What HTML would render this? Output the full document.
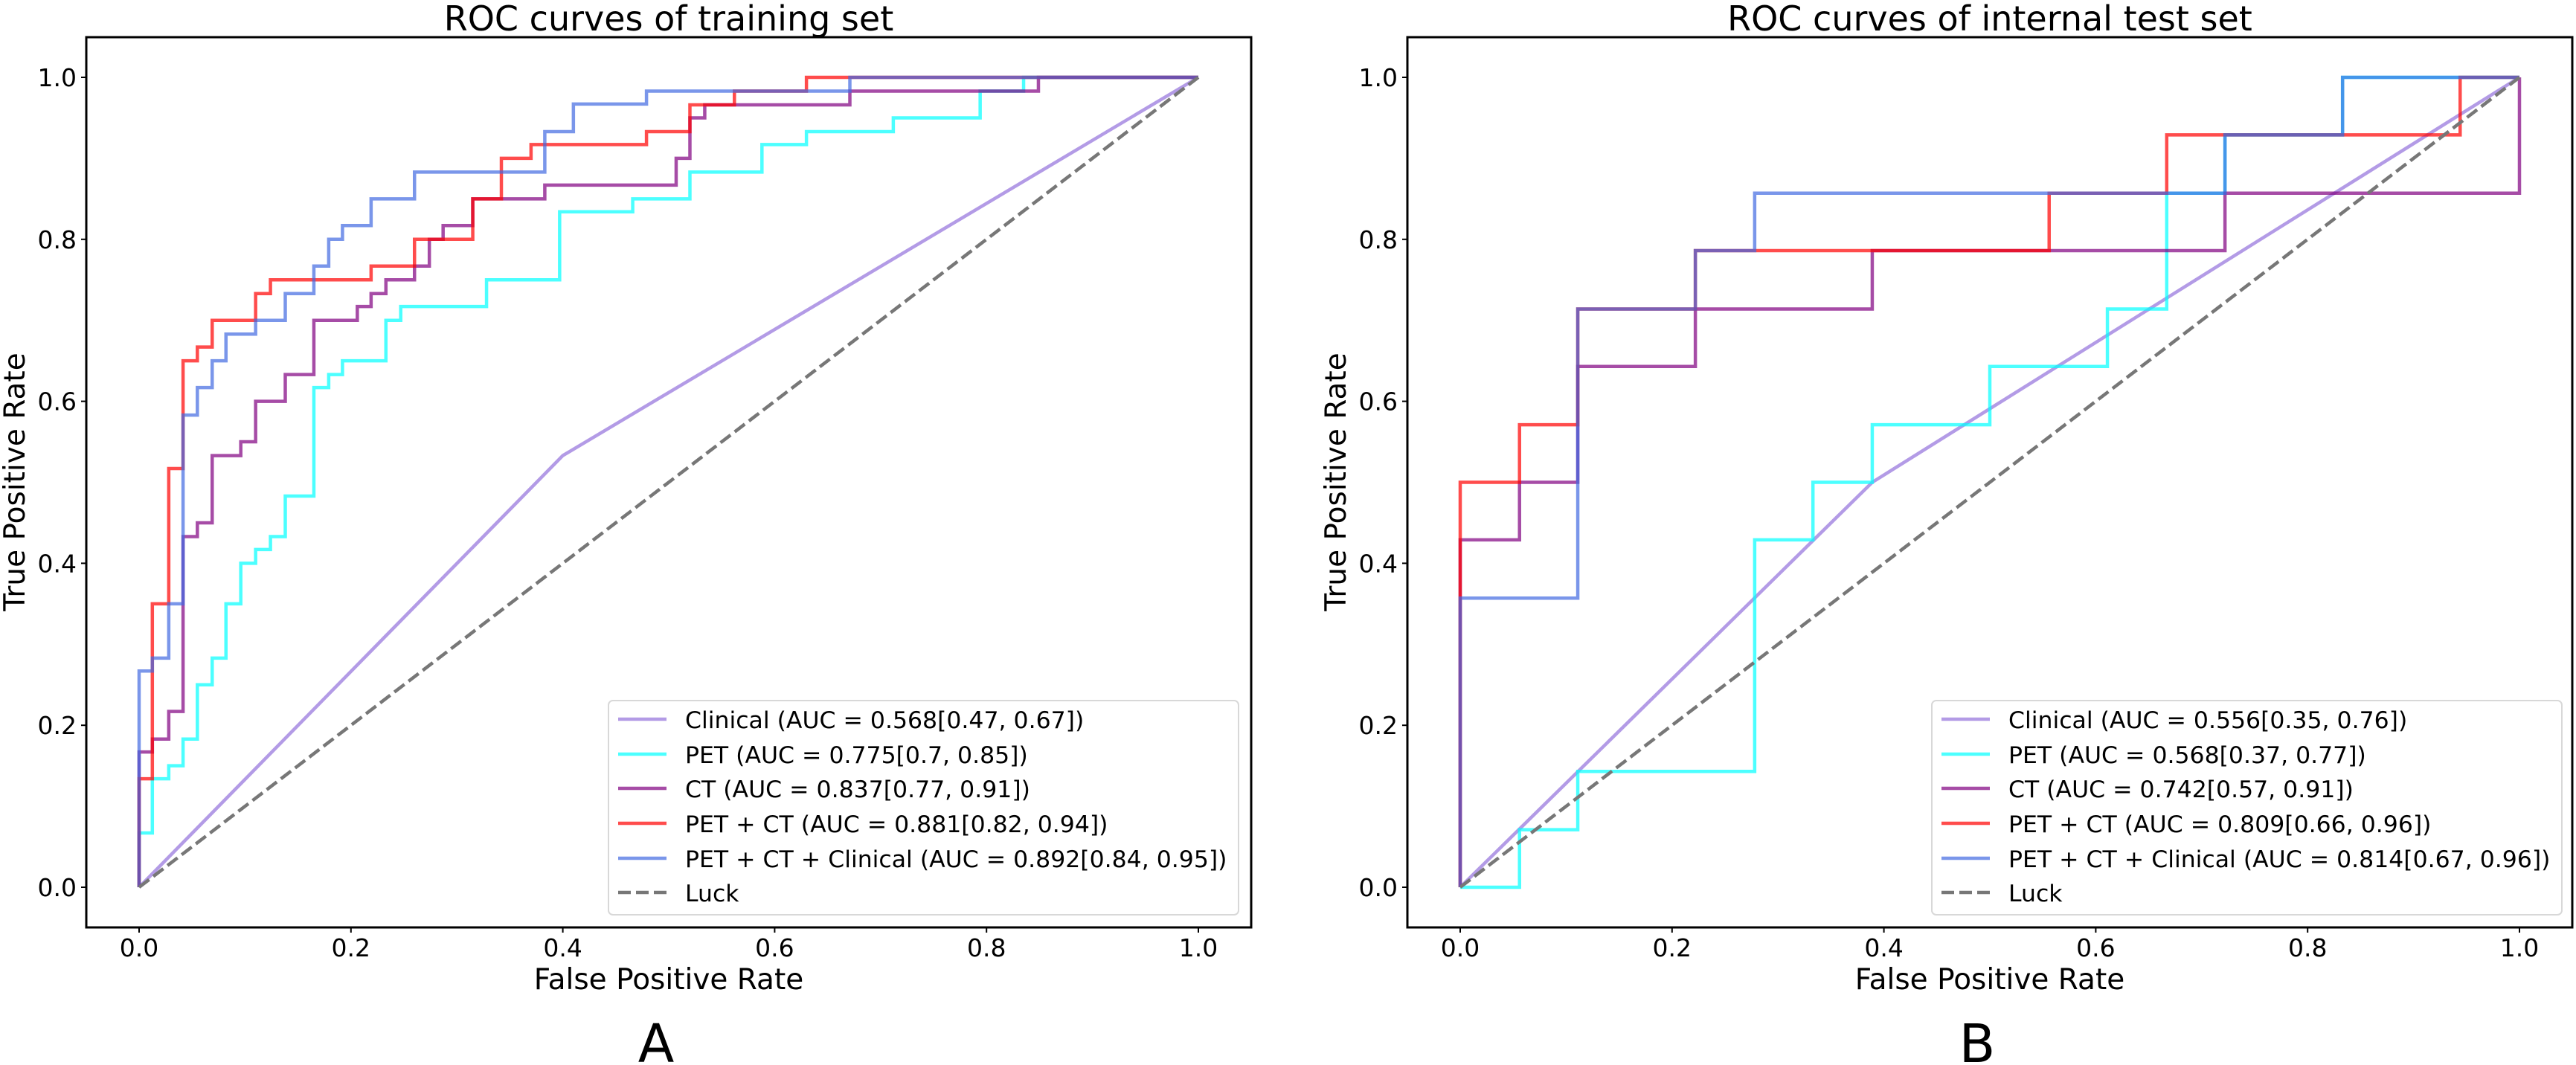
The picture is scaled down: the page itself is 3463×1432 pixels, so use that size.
<!DOCTYPE html>
<html><head><meta charset="utf-8"><style>
body{margin:0;background:#fff}
svg{display:block;font-family:"DejaVu Sans","Liberation Sans",sans-serif}
</style></head><body>
<svg id="fig" width="3463" height="1432" viewBox="0 0 3463 1432" xmlns="http://www.w3.org/2000/svg"></svg>
<script>
// ---- data ----
const trainClinicalFpr=[0,0.4,1], trainClinicalTpr=[0,0.533,1];
const trainPetFpr=[0,0,.0125,.028,.0415,.055,.069,.082,.096,.11,.124,.138,.165,.179,.192,.233,.247,.328,.397,.466,.52,.588,.63,.712,.794,.835,1];
const trainPetTpr=[0,.067,.134,.15,.183,.25,.283,.35,.40,.417,.433,.483,.617,.633,.65,.70,.717,.75,.834,.85,.883,.917,.933,.95,.983,1,1];
const trainCtFpr=[0,0,.0125,.028,.0415,.055,.069,.096,.11,.138,.165,.206,.219,.233,.26,.274,.287,.315,.383,.507,.52,.534,.671,.849,1];
const trainCtTpr=[0,.167,.183,.217,.433,.45,.533,.55,.60,.633,.70,.717,.733,.75,.767,.80,.817,.85,.867,.90,.95,.966,.983,1,1];
const trainPetCtFpr=[0,0,.0125,.028,.0415,.055,.069,.11,.124,.219,.26,.315,.342,.37,.479,.52,.562,.63,1];
const trainPetCtTpr=[0,.134,.35,.517,.65,.667,.70,.733,.75,.767,.80,.85,.90,.917,.933,.966,.983,1,1];
const trainAllFpr=[0,0,.0125,.028,.0415,.055,.069,.082,.11,.138,.165,.179,.192,.219,.26,.383,.41,.479,.671,1];
const trainAllTpr=[0,.267,.283,.35,.583,.617,.65,.683,.70,.733,.767,.80,.817,.85,.883,.933,.967,.983,1,1];
const testClinicalFpr=[0,0.389,1], testClinicalTpr=[0,0.5,1];
const testPetFpr=[0,.056,.111,.278,.333,.389,.5,.611,.667,.722,.833,1];
const testPetTpr=[0,.071,.143,.429,.5,.571,.643,.714,.857,.929,1,1];
const testCtFpr=[0,0,.056,.111,.222,.389,.722,1];
const testCtTpr=[0,.429,.5,.643,.714,.786,.857,1];
const testPetCtFpr=[0,0,.056,.111,.222,.556,.667,.944,1];
const testPetCtTpr=[0,.5,.571,.714,.786,.857,.929,1,1];
const testAllFpr=[0,0,.111,.222,.278,.722,.833,1];
const testAllTpr=[0,.357,.714,.786,.857,.929,1,1];
const tickValues=[0,0.2,0.4,0.6,0.8,1.0];
const tickLabels=["0.0","0.2","0.4","0.6","0.8","1.0"];
const trainLegend=["Clinical (AUC = 0.568[0.47, 0.67])","PET (AUC = 0.775[0.7, 0.85])","CT (AUC = 0.837[0.77, 0.91])","PET + CT (AUC = 0.881[0.82, 0.94])","PET + CT + Clinical (AUC = 0.892[0.84, 0.95])","Luck"];
const testLegend=["Clinical (AUC = 0.556[0.35, 0.76])","PET (AUC = 0.568[0.37, 0.77])","CT (AUC = 0.742[0.57, 0.91])","PET + CT (AUC = 0.809[0.66, 0.96])","PET + CT + Clinical (AUC = 0.814[0.67, 0.96])","Luck"];

const NS="http://www.w3.org/2000/svg";
const svg=document.getElementById('fig');
function mk(tag,attrs,parent,text){const e=document.createElementNS(NS,tag);for(const k in attrs)e.setAttribute(k,attrs[k]);if(text!==undefined)e.textContent=text;(parent||svg).appendChild(e);return e;}
const colors=['#9370DB','#00FFFF','#800080','#FF0000','#4169E1'];
const names=['clinical','pet','ct','pet-ct','pet-ct-clinical'];

function panel(cfg){
  const g=mk('g',{});
  
  
  const X=v=>cfg.x0+v*(cfg.x1-cfg.x0), Y=v=>1193-v*1089;
  const cx=(cfg.fl+cfg.fr)/2;
  const t=mk('text',{x:cx,y:41,'text-anchor':'middle','font-size':46},g,cfg.title);
  
  tickValues.forEach((v,i)=>{
    const xt=mk('line',{x1:X(v),x2:X(v),y1:1247,y2:1254,stroke:'#000','stroke-width':2},g);
    
    const xl=mk('text',{x:X(v),y:1286,'text-anchor':'middle','font-size':33},g,tickLabels[i]);
    
    const yt=mk('line',{x1:cfg.fl-7,x2:cfg.fl,y1:Y(v),y2:Y(v),stroke:'#000','stroke-width':2},g);
    
    const yl=mk('text',{x:cfg.fl-13,y:Y(v)+12,'text-anchor':'end','font-size':33},g,tickLabels[i]);
    
  });
  const xa=mk('text',{x:cx,y:1330,'text-anchor':'middle','font-size':39},g,'False Positive Rate');
  
  const ya=mk('text',{x:0,y:0,'text-anchor':'middle','font-size':39,transform:`translate(${cfg.yl},648) rotate(-90)`},g,'True Positive Rate');
  
  const pl=mk('text',{x:cx-17,y:1428,'text-anchor':'middle','font-size':71},g,cfg.letter);
  
  cfg.series.forEach((s,i)=>{
    let d='M'+X(s[0][0])+' '+Y(s[1][0]);
    for(let k=1;k<s[0].length;k++){
      if(i===0) d+=' L'+X(s[0][k])+' '+Y(s[1][k]);
      else d+=' L'+X(s[0][k])+' '+Y(s[1][k-1])+' L'+X(s[0][k])+' '+Y(s[1][k]);
    }
    const p=mk('path',{d:d,fill:'none',stroke:colors[i],'stroke-width':4.5,'stroke-opacity':0.7},g);
    
  });
  const lk=mk('line',{x1:X(0),y1:Y(0),x2:X(1),y2:Y(1),stroke:'#777','stroke-width':4.5,'stroke-dasharray':'17 7'},g);
  
  const fr=mk('rect',{x:cfg.fl,y:50,width:cfg.fr-cfg.fl,height:1197,fill:'none',stroke:'#000','stroke-width':3},g);
  
  const lg=mk('g',{},g);
  
  mk('rect',{x:cfg.lx,y:942,width:cfg.lw,height:288,rx:6,fill:'#fff','fill-opacity':0.8,stroke:'#d8d8d8','stroke-width':2},lg);
  const ly=[967,1014,1060,1107,1154,1200];
  cfg.legend.forEach((txt,i)=>{
    const e=mk('g',{},lg);
    
    if(i<5) mk('line',{x1:cfg.lx+13,x2:cfg.lx+78,y1:ly[i],y2:ly[i],stroke:colors[i],'stroke-width':4.5,'stroke-opacity':0.7},e);
    else mk('line',{x1:cfg.lx+13,x2:cfg.lx+78,y1:ly[i],y2:ly[i],stroke:'#777','stroke-width':4.5,'stroke-dasharray':'17 7'},e);
    mk('text',{x:cfg.lx+103,y:ly[i]+12,'font-size':31.5},e,txt);
  });
}
panel({id:'training',title:'ROC curves of training set',letter:'A',fl:116,fr:1682,x0:187,x1:1611,yl:33,lx:818,lw:847,legend:trainLegend,
  series:[[trainClinicalFpr,trainClinicalTpr],[trainPetFpr,trainPetTpr],[trainCtFpr,trainCtTpr],[trainPetCtFpr,trainPetCtTpr],[trainAllFpr,trainAllTpr]]});
panel({id:'test',title:'ROC curves of internal test set',letter:'B',fl:1892,fr:3458,x0:1963,x1:3387,yl:1809,lx:2597,lw:847,legend:testLegend,
  series:[[testClinicalFpr,testClinicalTpr],[testPetFpr,testPetTpr],[testCtFpr,testCtTpr],[testPetCtFpr,testPetCtTpr],[testAllFpr,testAllTpr]]});
</script>
</body></html>
